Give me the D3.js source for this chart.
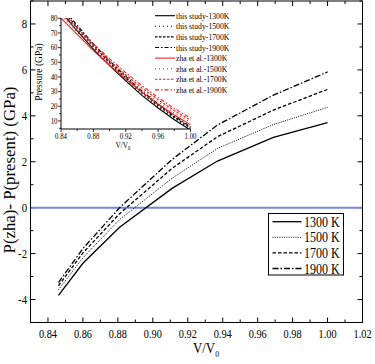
<!DOCTYPE html>
<html><head><meta charset="utf-8">
<script src="https://cdn.jsdelivr.net/npm/d3@7"></script>
<style>body{margin:0;background:#fff}svg{display:block}</style>
</head><body><div id="c"></div>
<script>
// ---- main chart data ----
const vMain = [0.846, 0.860, 0.881, 0.911, 0.937, 0.969, 1.000];
const d1300 = [-3.82, -2.42, -0.85, 0.84, 2.03, 3.06, 3.70];
const d1500 = [-3.58, -2.18, -0.52, 1.28, 2.58, 3.62, 4.37];
const d1700 = [-3.40, -1.97, -0.26, 1.71, 3.09, 4.25, 5.15];
const d1900 = [-3.26, -1.78, 0.00, 2.10, 3.60, 4.90, 5.91];
const mainLabels = ["1300 K", "1500 K", "1700 K", "1900 K"];
const xTicksMain = [0.84,0.86,0.88,0.90,0.92,0.94,0.96,0.98,1.00,1.02];
const yTicksMain = [-4,-2,0,2,4,6,8];
// ---- inset data ----
const vIn = [0.84, 0.86, 0.88, 0.90, 0.92, 0.94, 0.96, 0.98, 1.00];
const this1300 = [84.4, 71.4, 58.9, 47.7, 37.3, 27.4, 18.8, 10.8, 3.8];
const this1500 = [85.6, 72.6, 60.1, 48.8, 38.3, 28.4, 19.7, 11.7, 4.6];
const this1700 = [86.9, 73.9, 61.3, 49.9, 39.4, 29.4, 20.7, 12.5, 5.4];
const this1900 = [88.3, 75.2, 62.6, 51.0, 40.5, 30.4, 21.6, 13.3, 6.1];
const zha1300 = [80.0, 69.0, 58.0, 48.0, 38.5, 29.5, 21.5, 14.0, 7.5];
const zha1500 = [81.5, 70.5, 59.5, 49.5, 40.0, 31.0, 23.0, 15.5, 9.0];
const zha1700 = [83.0, 72.0, 61.0, 51.0, 41.5, 32.5, 24.5, 17.0, 10.5];
const zha1900 = [84.5, 73.5, 62.5, 52.5, 43.0, 34.0, 26.0, 18.5, 12.0];
const insetLabels = ["this study-1300K","this study-1500K","this study-1700K","this study-1900K",
                     "zha et al.-1300K","zha et al.-1500K","zha et al.-1700K","zha et al.-1900K"];
const xTicksIn = [0.84,0.88,0.92,0.96,1.00];
const yTicksIn = [10,20,30,40,50,60,70,80];

const dashes = [null, "1,1.3", "3.5,2", "6,2,1.5,2"];
const dashesIn = [null, "1,3", "2.5,1.5", "4,2,1.5,2"];
const SX = 0.86; // horizontal squeeze of the original figure's glyphs

const W = 375, H = 364;
const svg = d3.select("#c").append("svg").attr("width", W).attr("height", H)
  .attr("font-family", "'Liberation Serif', Tinos, 'Times New Roman', serif");

function txt(parent, x, y, s, size, anchor) {
  const g = parent.append("g").attr("transform", `translate(${x},${y}) scale(${SX},1)`);
  return g.append("text").attr("font-size", size).attr("text-anchor", anchor || "start").text(s);
}

// main scales
const x = d3.scaleLinear().domain([0.83, 1.02]).range([30.5, 362.5]);
const y = d3.scaleLinear().domain([-5, 9]).range([322.5, 1]);

// frame
svg.append("rect").attr("x", 30.5).attr("y", 1).attr("width", 332).attr("height", 321.5)
  .attr("fill", "none").attr("stroke", "#000").attr("stroke-width", 1);

// ticks (inside)
const xMinor = d3.range(0.83, 1.0201, 0.01).map(v => +v.toFixed(3));
const yMinor = d3.range(-5, 9.01, 1);
const tg = svg.append("g").attr("stroke", "#000").attr("stroke-width", 1);
xMinor.forEach(v => {
  const major = xTicksMain.some(t => Math.abs(t - v) < 1e-6);
  const len = major ? 5 : 3;
  tg.append("line").attr("x1", x(v)).attr("x2", x(v)).attr("y1", 322.5).attr("y2", 322.5 - len);
  tg.append("line").attr("x1", x(v)).attr("x2", x(v)).attr("y1", 1).attr("y2", 1 + len);
});
yMinor.forEach(v => {
  const major = yTicksMain.includes(v);
  const len = major ? 5 : 3;
  tg.append("line").attr("x1", 30.5).attr("x2", 30.5 + len).attr("y1", y(v)).attr("y2", y(v));
  tg.append("line").attr("x1", 362.5).attr("x2", 362.5 - len).attr("y1", y(v)).attr("y2", y(v));
});
const tl = svg.append("g");
xTicksMain.forEach(d => txt(tl, x(d), 337.5, d.toFixed(2), 12, "middle"));
yTicksMain.forEach(d => txt(tl, 27, y(d) + 4.2, d, 12.5, "end"));

// axis titles
const xt = txt(svg, 206, 353, "V/V", 15, "middle");
xt.append("tspan").attr("font-size", 9).attr("dy", 4).text("0");
svg.append("text").attr("transform", "translate(14.5,170) rotate(-90)").attr("text-anchor", "middle")
  .attr("font-size", 16.8).text("P(zha)- P(present) (GPa)");

// zero line
svg.append("line").attr("x1", 31).attr("x2", 362).attr("y1", y(0)).attr("y2", y(0))
  .attr("stroke", "#7586e6").attr("stroke-width", 2);

// main lines
const line = d3.line().x((d, i) => x(vMain[i])).y(d => y(d));
[d1300, d1500, d1700, d1900].forEach((s, i) => {
  svg.append("path").attr("d", line(s)).attr("fill", "none").attr("stroke", "#000")
    .attr("stroke-width", i === 1 ? 1 : 1.3).attr("stroke-dasharray", dashes[i]);
});

// main legend
svg.append("rect").attr("x", 268.5).attr("y", 213.5).attr("width", 75).attr("height", 61.5)
  .attr("fill", "#fff").attr("stroke", "#000").attr("stroke-width", 1);
mainLabels.forEach((lab, i) => {
  const yy = 221.7 + i * 15.6;
  svg.append("line").attr("x1", 272.5).attr("x2", 301.5).attr("y1", yy).attr("y2", yy)
    .attr("stroke", "#000").attr("stroke-width", i === 1 ? 1 : 1.3).attr("stroke-dasharray", dashes[i]);
  txt(svg, 304, yy + 5, lab, 14, "start");
});

// ---- inset ----
const xi = d3.scaleLinear().domain([0.84, 1.00]).range([61, 190.5]);
const yi = d3.scaleLinear().domain([4.5, 80]).range([129, 18.3]);
const ig = svg.append("g");
ig.append("clipPath").attr("id", "clipIn").append("rect")
  .attr("x", 61).attr("y", 18).attr("width", 131).attr("height", 111);
const lineIn = d3.line().x((d, i) => xi(vIn[i])).y(d => yi(d));
const cg = ig.append("g").attr("clip-path", "url(#clipIn)");
[this1300, this1500, this1700, this1900].forEach((s, i) => {
  cg.append("path").attr("d", lineIn(s)).attr("fill", "none").attr("stroke", "#000")
    .attr("stroke-width", 1.1).attr("stroke-dasharray", dashesIn[i]);
});
[zha1300, zha1500, zha1700, zha1900].forEach((s, i) => {
  cg.append("path").attr("d", lineIn(s)).attr("fill", "none").attr("stroke", "#ee2222")
    .attr("stroke-width", 1.1).attr("stroke-dasharray", dashesIn[i]);
});
// inset axes
ig.append("line").attr("x1", 61).attr("x2", 61).attr("y1", 18).attr("y2", 129).attr("stroke", "#000");
ig.append("line").attr("x1", 61).attr("x2", 190.5).attr("y1", 129).attr("y2", 129).attr("stroke", "#000");
d3.range(0.84, 1.0001, 0.02).forEach(v => {
  const major = xTicksIn.some(t => Math.abs(t - v) < 1e-6);
  ig.append("line").attr("x1", xi(v)).attr("x2", xi(v)).attr("y1", 129).attr("y2", 129 + (major ? 3 : 2)).attr("stroke", "#000").attr("stroke-width", 0.8);
});
d3.range(5, 80.1, 5).forEach(v => {
  const major = yTicksIn.includes(v);
  ig.append("line").attr("x1", 61).attr("x2", 61 - (major ? 3 : 2)).attr("y1", yi(v)).attr("y2", yi(v)).attr("stroke", "#000").attr("stroke-width", 0.8);
});
xTicksIn.forEach(d => txt(ig, xi(d), 138.5, d.toFixed(2), 8, "middle"));
yTicksIn.forEach(d => txt(ig, 57.5, yi(d) + 2.7, d, 8, "end"));
const xti = txt(ig, 123, 148, "V/V", 8.5, "middle");
xti.append("tspan").attr("font-size", 5.5).attr("dy", 2).text("0");
ig.append("text").attr("transform", "translate(41.5,72) rotate(-90)").attr("text-anchor", "middle")
  .attr("font-size", 9.5).text("Pressure (GPa)");
// inset legend
insetLabels.forEach((lab, i) => {
  const yy = 15.7 + i * 10.6;
  ig.append("line").attr("x1", 155).attr("x2", 175).attr("y1", yy).attr("y2", yy)
    .attr("stroke", i < 4 ? "#000" : "#ee2222").attr("stroke-width", 1.1).attr("stroke-dasharray", dashesIn[i % 4]);
  txt(ig, 176, yy + 3, lab, 9, "start");
});
</script></body></html>
